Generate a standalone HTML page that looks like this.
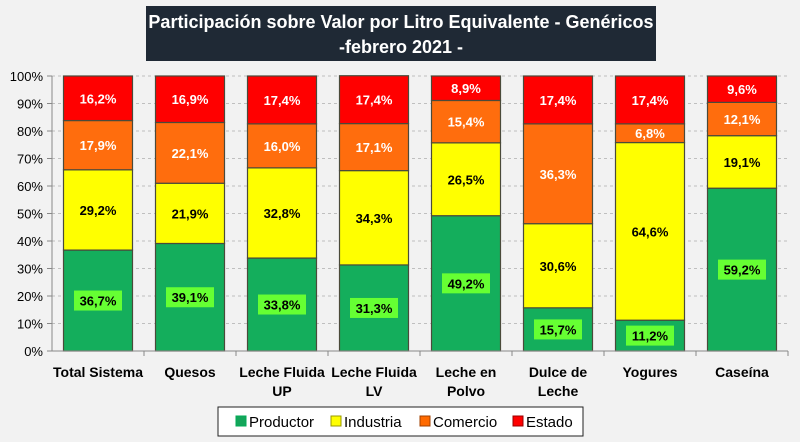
<!DOCTYPE html>
<html><head><meta charset="utf-8"><style>
body{margin:0;background:#f2f2f2;}
svg{display:block;font-family:"Liberation Sans",sans-serif;}
</style></head><body>
<svg id="chart" width="800" height="442">
<rect x="0" y="0" width="800" height="442" fill="#f2f2f2"/>
<rect x="146" y="6" width="510" height="55" fill="#1f2935"/>
<text x="401" y="28" text-anchor="middle" fill="#fff" font-size="18" font-weight="bold">Participación sobre Valor por Litro Equivalente - Genéricos</text>
<text x="401" y="53" text-anchor="middle" fill="#fff" font-size="18" font-weight="bold">-febrero 2021 -</text>
<g id="grid"></g><g id="bars"></g><g id="axes"></g>
<g>
<rect x="218" y="407" width="365" height="29" fill="#fff" stroke="#222" stroke-width="1"/>
<rect x="236" y="416" width="10" height="10" fill="#14a55a" stroke="#0a5"/>
<text x="249" y="427" font-size="15" fill="#000">Productor</text>
<rect x="331" y="416" width="10" height="10" fill="#ffff00" stroke="#999900"/>
<text x="344" y="427" font-size="15" fill="#000">Industria</text>
<rect x="420" y="416" width="10" height="10" fill="#ff6a00" stroke="#a04000"/>
<text x="433" y="427" font-size="15" fill="#000">Comercio</text>
<rect x="513" y="416" width="10" height="10" fill="#ff0000" stroke="#900"/>
<text x="526" y="427" font-size="15" fill="#000">Estado</text>
</g>
</svg>
<script>
const categories=[["Total Sistema"],["Quesos"],["Leche Fluida","UP"],["Leche Fluida","LV"],["Leche en","Polvo"],["Dulce de","Leche"],["Yogures"],["Caseína"]];
const productor=[36.7,39.1,33.8,31.3,49.2,15.7,11.2,59.2];
const industria=[29.2,21.9,32.8,34.3,26.5,30.6,64.6,19.1];
const comercio=[17.9,22.1,16.0,17.1,15.4,36.3,6.8,12.1];
const estado=[16.2,16.9,17.4,17.4,8.9,17.4,17.4,9.6];
const yTicks=[0,10,20,30,40,50,60,70,80,90,100];
const NS="http://www.w3.org/2000/svg";
const x0=52,x1=788,yB=351,yT=76,cw=(x1-x0)/categories.length,bw=69;
const y=v=>yB-(v/100)*(yB-yT);
const xc=i=>x0+cw*(i+0.5);
function mk(tag,at,parent){const e=document.createElementNS(NS,tag);for(const k in at)e.setAttribute(k,at[k]);parent.appendChild(e);return e;}
const grid=document.getElementById('grid'),bars=document.getElementById('bars'),axes=document.getElementById('axes');
yTicks.forEach(t=>{
 if(t>0){const l=mk('line',{x1:x0,x2:x1,y1:y(t),y2:y(t),stroke:'#bfbfbf','stroke-dasharray':'3,3'},grid);
 
 }
 const tk=mk('line',{x1:x0-5,x2:x0,y1:y(t),y2:y(t),stroke:'#888'},axes);
 
 
 const tx=mk('text',{x:x0-9,y:y(t)+5,'text-anchor':'end','font-size':'13',fill:'#000'},axes);
 tx.textContent=t+'%';
 
 
});
const ax=mk('line',{x1:x0,x2:x0,y1:yT,y2:yB,stroke:'#888'},axes);


const bx=mk('line',{x1:x0,x2:x1,y1:yB,y2:yB,stroke:'#888'},axes);


const series=[
 {name:'productor',vals:productor,fill:'#14ae5c',tc:'#000',lab:'#66ff33'},
 {name:'industria',vals:industria,fill:'#ffff00',tc:'#000',lab:null},
 {name:'comercio',vals:comercio,fill:'#ff6d0d',tc:'#fff',lab:null},
 {name:'estado',vals:estado,fill:'#ff0000',tc:'#fff',lab:null}];
categories.forEach((c,i)=>{
 let cum=0;
 const tk=mk('line',{x1:x0+cw*(i+1),x2:x0+cw*(i+1),y1:yB,y2:yB+5,stroke:'#888'},axes);
 
 
 series.forEach(s=>{
  const v=s.vals[i],ya=y(cum+v),yb=y(Math.min(cum,100));
  const r=mk('rect',{x:xc(i)-bw/2,y:ya,width:bw,height:yb-ya,fill:s.fill,stroke:'#4a4a3a','stroke-width':'1.2'},bars);
  
  
  const my=(ya+yb)/2;
  const txt=v.toFixed(1).replace('.',',')+'%';
  if(s.lab){const b=mk('rect',{x:xc(i)-24,y:my-10,width:48,height:20,fill:s.lab},bars);
   
   }
  const t=mk('text',{x:xc(i),y:my+5,'text-anchor':'middle','font-size':'13','font-weight':'bold',fill:s.tc},bars);
  t.textContent=txt;
  
  
  cum+=v;
 });
 c.forEach((ln,k)=>{
  const t=mk('text',{x:xc(i),y:377+k*19,'text-anchor':'middle','font-size':'14','font-weight':'bold',fill:'#000'},axes);
  t.textContent=ln;
  
  
 });
});
</script>
</body></html>
